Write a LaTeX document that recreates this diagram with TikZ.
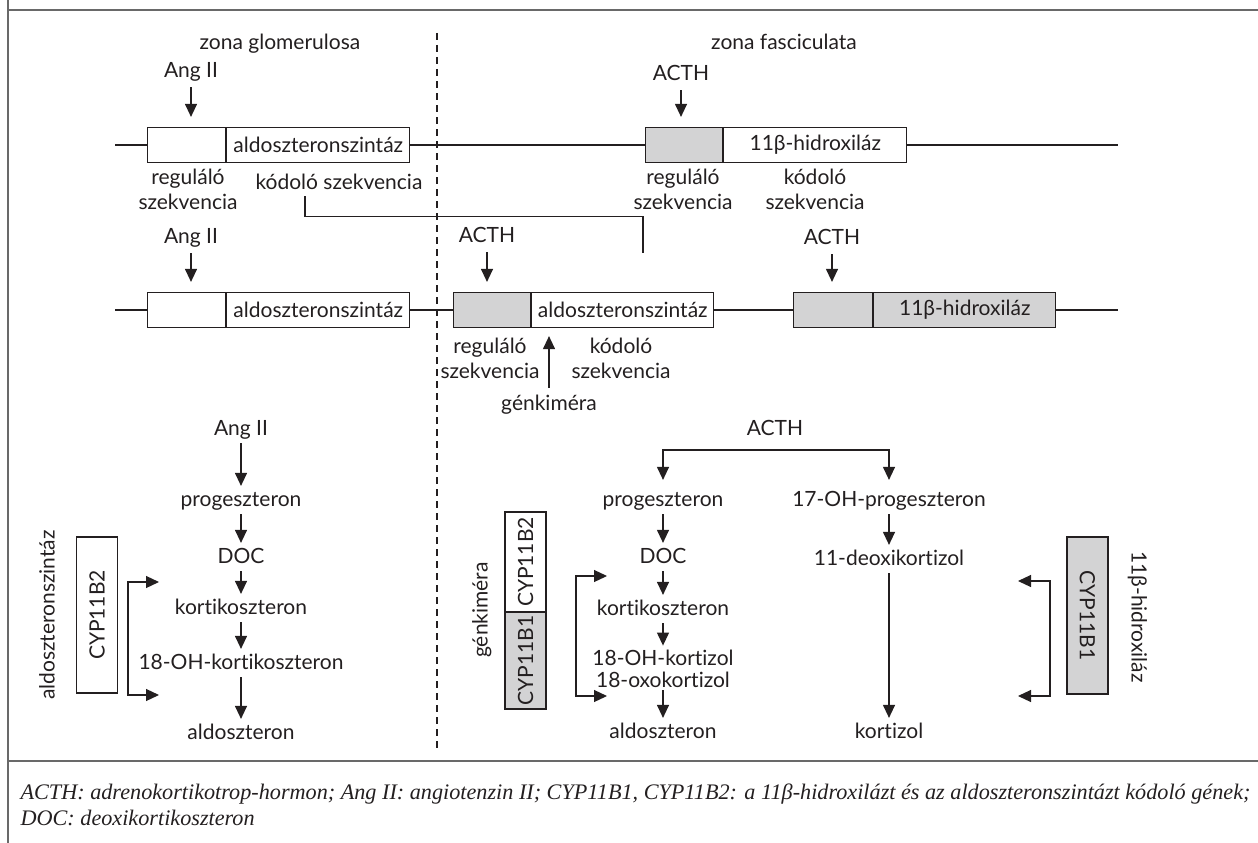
\documentclass[tikz,border=0pt]{standalone}
\usepackage{fontspec}
\setmainfont{Lato}[Ligatures=NoCommon]
\newfontfamily\capfont{Liberation Serif}
\usetikzlibrary{arrows.meta}
\definecolor{genegray}{RGB}{211,211,212}
\definecolor{framegray}{RGB}{105,105,105}
\definecolor{ink}{RGB}{35,31,32}

\begin{document}
\begin{tikzpicture}[x=1pt, y=-1pt, line width=1.2pt, color=ink,
		txt/.style={font=\fontsize{21}{25}\selectfont, inner sep=2pt, text height=15pt, text depth=4pt},
		lab/.style={font=\fontsize{21}{25}\selectfont, inner sep=1pt, align=center},
		part/.style={draw, anchor=west, minimum height=35pt, inner sep=0pt, font=\fontsize{21}{25}\selectfont},
		regpart/.style={part, fill=genegray},
		enz/.style={draw, minimum height=41pt, inner sep=0pt, font=\fontsize{21}{25}\selectfont},
		arr/.style={-{Triangle[length=13pt,width=12pt]}},
		stim/.style={arr, shorten <=3pt, shorten >=10pt},
		flow/.style={arr, shorten <=1pt, shorten >=3pt},
		twoarr/.style={{Triangle[length=13pt,width=12pt]}-{Triangle[length=13pt,width=12pt]}},
		frame/.style={framegray, line width=2pt}]
	\useasboundingbox (0,0) rectangle (1258,843);
	\draw [frame] (8,0) -- (8,843);
	\draw [frame] (8,10) -- (1258,10);
	\draw [frame] (8,761) -- (1258,761);
	\draw [dash pattern=on 7pt off 5pt] (437,33) -- (437,752);

	\node [txt] at (280,44) (zg) {zona glomerulosa};
	\node [txt] at (784,44) (zf) {zona fasciculata};

	% first gene row
	\node [part, minimum width=78pt] at (147,145) (reg1) {};
	\node [part, minimum width=183pt] at (reg1.east) (cod1) {aldoszteronszintáz};
	\node [regpart, minimum width=77pt] at (645,145) (reg2) {};
	\node [part, minimum width=183pt] at (reg2.east) (cod2) {11β-hidroxiláz};
	\coordinate (l1a) at (115,145);
	\coordinate (l1b) at (1118,145);
	\draw (l1a) -- (reg1.west) (cod1.east) -- (reg2.west) (cod2.east) -- (l1b);

	\node [txt] at (191,72) (ang1) {Ang II};
	\node [txt] at (681,75) (acth1) {ACTH};
	\draw [stim] (ang1.south) -- (ang1.south |- reg1.north);
	\draw [stim] (acth1.south) -- (acth1.south |- reg2.north);

	\node [lab] at (188,189) (reglab1) {reguláló\\szekvencia};
	\node [txt] at (339,184) (kodlab1) {kódoló szekvencia};
	\node [lab] at (683,189) (reglab2) {reguláló\\szekvencia};
	\node [lab] at (815,189) (kodlab2) {kódoló\\szekvencia};

	\coordinate (link) at (643,253);
	\draw ([xshift=-34pt]kodlab1.south) -- ++(0,20) -| (link);

	% second gene row
	\node [part, minimum width=78pt] at (147,310) (reg3) {};
	\node [part, minimum width=183pt] at (reg3.east) (cod3) {aldoszteronszintáz};
	\node [regpart, minimum width=77pt] at (453,310) (reg4) {};
	\node [part, minimum width=182pt] at (reg4.east) (cod4) {aldoszteronszintáz};
	\node [regpart, minimum width=79pt] at (793,310) (reg5) {};
	\node [regpart, minimum width=182pt] at (reg5.east) (cod5) {11β-hidroxiláz};
	\coordinate (l2a) at (115,310);
	\coordinate (l2b) at (1118,310);
	\draw (l2a) -- (reg3.west) (cod3.east) -- (reg4.west) (cod4.east) -- (reg5.west) (cod5.east) -- (l2b);

	\node [txt] at (191,238) (ang2) {Ang II};
	\node [txt] at (487,237) (acth2) {ACTH};
	\node [txt] at (832,239) (acth3) {ACTH};
	\draw [stim] (ang2.south) -- (ang2.south |- reg3.north);
	\draw [stim] (acth2.south) -- (acth2.south |- reg4.north);
	\draw [stim] (acth3.south) -- (acth3.south |- reg5.north);

	\node [lab] at (490,358) (reglab3) {reguláló\\szekvencia};
	\node [lab] at (621,358) (kodlab3) {kódoló\\szekvencia};
	\node [txt] at (549,405) (gk) {génkiméra};
	\draw [arr, shorten >=8pt] ([yshift=5pt]gk.north) -- (gk.north |- cod4.south);

	% zona glomerulosa pathway
	\node [txt] at (241,430) (ang3) {Ang II};
	\node [txt] at (241,501) (prog1) {progeszteron};
	\node [txt] at (241,558) (doc1) {DOC};
	\node [txt] at (241,609) (kort1) {kortikoszteron};
	\node [txt] at (241,664) (oh1) {18-OH-kortikoszteron};
	\node [txt] at (241,734) (aldo1) {aldoszteron};
	\foreach \a/\b in {ang3/prog1, prog1/doc1, doc1/kort1, kort1/oh1, oh1/aldo1}
		\draw [flow] (\a) -- (\b);

	\node [enz, rotate=90, minimum width=156pt] at (97,615) (cyp2) {CYP11B2};
	\node [txt, rotate=90] at (49,615) (aldsz) {aldoszteronszintáz};
	\coordinate (b1a) at (159,582);
	\coordinate (b1b) at (159,695);
	\draw [twoarr] (b1a) -- ++(-31,0) |- (b1b);

	% zona fasciculata pathway
	\node [txt] at (775,430) (acth4) {ACTH};
	\coordinate (fork) at (775,450);
	\node [txt] at (663,501) (prog2) {progeszteron};
	\node [txt] at (889,501) (ohp) {17-OH-progeszteron};
	\draw [arr, shorten >=9pt] (fork) -| (prog2.north);
	\draw [arr, shorten >=9pt] (fork) -| (ohp.north);

	\node [txt] at (663,558) (doc2) {DOC};
	\node [txt] at (663,610) (kort2) {kortikoszteron};
	\node [lab] at (663,669) (ohk) {18-OH-kortizol\\[-3pt]18-oxokortizol};
	\node [txt] at (663,733) (aldo2) {aldoszteron};
	\node [txt] at (889,560) (deox) {11-deoxikortizol};
	\node [txt] at (889,733) (kortizol) {kortizol};
	\foreach \a/\b in {prog2/doc2, doc2/kort2, kort2/ohk, ohk/aldo2, ohp/deox, deox/kortizol}
		\draw [flow] (\a) -- (\b);

	\node [enz, rotate=90, minimum width=100pt] at (525.5,562) (chim2) {CYP11B2};
	\node [enz, rotate=90, minimum width=97pt, fill=genegray] at (525.5,660.5) (chim1) {CYP11B1};
	\node [txt, rotate=90] at (482,610) (gkl) {génkiméra};
	\coordinate (b2a) at (607,576);
	\coordinate (b2b) at (607,696);
	\draw [twoarr] (b2a) -- ++(-31,0) |- (b2b);

	\node [enz, rotate=-90, minimum width=157pt, fill=genegray] at (1087.5,615.5) (cyp1) {CYP11B1};
	\node [txt, rotate=-90] at (1137,617) (hidr) {11β-hidroxiláz};
	\coordinate (b3a) at (1018,581);
	\coordinate (b3b) at (1018,696);
	\draw [twoarr] (b3a) -- ++(32,0) |- (b3b);

	\node [anchor=north west, align=left, inner sep=0pt, font=\capfont\itshape\fontsize{22.2}{26}\selectfont] at (20,783) (cap)
		{ACTH: adrenokortikotrop-hormon; Ang II: angiotenzin II; CYP11B1, CYP11B2: a 11β-hidroxilázt és az aldoszteronszintázt kódoló gének;\\
		DOC: deoxikortikoszteron};
\end{tikzpicture}
\end{document}
